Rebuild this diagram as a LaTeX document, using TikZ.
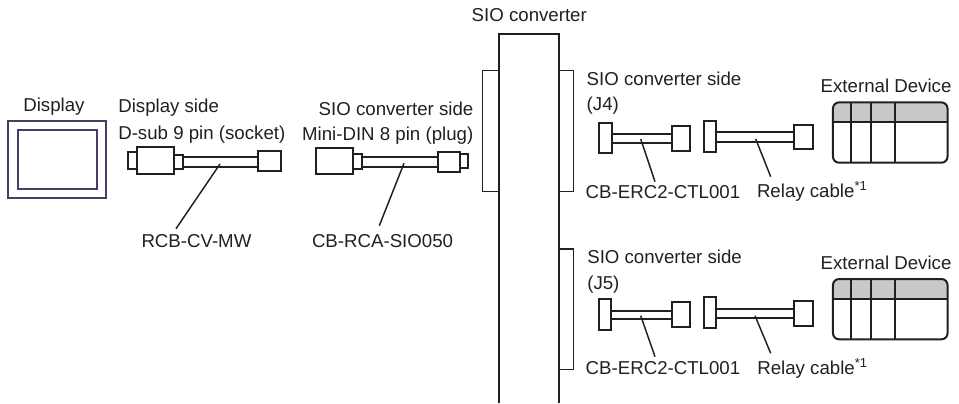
\documentclass[tikz,border=0pt]{standalone}
\usepackage{fontspec}
\setmainfont{Liberation Sans}
\definecolor{ink}{HTML}{231F20}
\definecolor{dev}{HTML}{C8C9CB}
\definecolor{disp}{HTML}{4B3A68}
\newcommand{\partbox}[6][part]{%
  \pgfmathsetmacro{\pbw}{(#5-#3)*0.75}%
  \pgfmathsetmacro{\pbh}{(#6-#4)*0.75}%
  \node[#1,minimum width=\pbw pt,minimum height=\pbh pt] (#2) at ({(#3+#5)/2},{(#4+#6)/2}) {};}
\newcommand{\devicebox}[3]{% name, top, divider
  \pgfmathsetmacro{\dvb}{#2+60.3}%
  \begin{scope}
    \clip[rounded corners=4.5pt] (833,#2) rectangle (947.5,\dvb);
    \fill[dev] (833,#2) rectangle (947.5,#3);
  \end{scope}
  \node[devframe,minimum width=85.9pt,minimum height=45.2pt] (#1) at (890.25,{(#2+\dvb)/2}) {};
  \draw[devline] (833,#3) -- (947.5,#3);
  \draw[devline] (851.3,#2) -- (851.3,\dvb);
  \draw[devline] (870.7,#2) -- (870.7,\dvb);
  \draw[devline] (895.3,#2) -- (895.3,\dvb);}
\tikzset{
  x=0.75pt,y=-0.75pt,
  part/.style={draw=ink,fill=white,line width=1.5pt,inner sep=0pt,outer sep=0pt},
  thinpart/.style={draw=ink,fill=white,line width=0.9pt,inner sep=0pt,outer sep=0pt},
  dispouter/.style={draw=disp,fill=white,line width=1.9pt,inner sep=0pt,outer sep=0pt},
  dispinner/.style={draw=disp,fill=white,line width=1.5pt,inner sep=0pt,outer sep=0pt},
  devframe/.style={draw=ink,line width=1.5pt,rounded corners=4.5pt,inner sep=0pt,outer sep=0pt},
  devline/.style={draw=ink,line width=1.3pt},
  wire/.style={draw=ink,line width=1.5pt},
  leader/.style={draw=ink,line width=1.1pt},
  lab/.style={text=ink,font=\fontsize{14}{16}\selectfont,inner sep=0pt,outer sep=0pt,anchor=base west},
  labr/.style={lab,anchor=base east},
}
\begin{document}
\begin{tikzpicture}
\useasboundingbox (0,0) rectangle (959,403);
% Display
\partbox[dispouter]{dispo}{8}{121}{106}{198}
\partbox[dispinner]{dispi}{17.7}{130}{96.7}{189}
\node[lab] (tdisp) at (23.3,111.7) {Display};
\node[lab] (tds1) at (118.3,112.7) {Display side};
\node[lab] (tds2) at (118.3,139.3) {D-sub 9 pin (socket)};
% Cable 1
\partbox{c1a}{127.7}{151.7}{136.7}{169.3}
\partbox{c1b}{136.7}{147.3}{174.3}{174.3}
\partbox{c1c}{174.3}{154.7}{183.3}{169.3}
\partbox{c1d}{258.3}{151.3}{280.7}{171}
\draw[wire] (c1c.east |- 0,157) -- (c1d.west |- 0,157);
\draw[wire] (c1c.east |- 0,166.7) -- (c1d.west |- 0,166.7);
\node[lab] (t1) at (141.5,247) {RCB-CV-MW};
\coordinate (l1a) at (220,164);
\coordinate (l1b) at (176,228.7);
\draw[leader] (l1a) -- (l1b);
% Cable 2
\node[labr] (ts1) at (473.3,115.7) {SIO converter side};
\node[labr] (ts2) at (473.3,140) {Mini-DIN 8 pin (plug)};
\partbox{c2a}{316}{147.7}{353.3}{174.3}
\partbox{c2b}{353.3}{154.3}{362.3}{169.3}
\partbox{c2c}{437.7}{151.7}{460}{171.7}
\partbox{c2d}{460}{154.3}{467.7}{168.3}
\draw[wire] (c2b.east |- 0,157) -- (c2c.west |- 0,157);
\draw[wire] (c2b.east |- 0,166.7) -- (c2c.west |- 0,166.7);
\node[lab] (t2) at (312,247) {CB-RCA-SIO050};
\coordinate (l2a) at (404,163.3);
\coordinate (l2b) at (379.3,225.7);
\draw[leader] (l2a) -- (l2b);
% SIO converter
\node[lab] (tsio) at (471.7,22) {SIO converter};
\partbox[thinpart]{fl}{482.7}{70.3}{499}{191.3}
\partbox[thinpart]{fr1}{559}{70.3}{573.3}{191.3}
\partbox[thinpart]{fr2}{559}{249}{573.3}{369.7}
\fill[white] (499,34) rectangle (559,403);
\draw[ink,line width=1.5pt] (499,403) -- (499,34) -- (559,34) -- (559,403);
% Upper branch
\node[lab] (u1) at (586.7,85) {SIO converter side};
\node[lab] (u2) at (586.7,110) {(J4)};
\node[lab] (u3) at (820.7,93) {External Device};
\partbox{c3a}{599}{122.7}{611.7}{153.3}
\partbox{c3b}{671.7}{126}{690}{150.7}
\draw[wire] (c3a.east |- 0,134) -- (c3b.west |- 0,134);
\draw[wire] (c3a.east |- 0,143.3) -- (c3b.west |- 0,143.3);
\partbox{c4a}{704}{121}{716}{151.7}
\partbox{c4b}{794}{124.7}{812.7}{149.3}
\draw[wire] (c4a.east |- 0,132.3) -- (c4b.west |- 0,132.3);
\draw[wire] (c4a.east |- 0,141.7) -- (c4b.west |- 0,141.7);
\devicebox{d1}{102.4}{121.7}
\coordinate (l3a) at (640.7,139);
\coordinate (l3b) at (655,181.7);
\draw[leader] (l3a) -- (l3b);
\coordinate (l4a) at (755.7,139);
\coordinate (l4b) at (770.7,176.7);
\draw[leader] (l4a) -- (l4b);
\node[lab] (u4) at (585.7,198) {CB-ERC2-CTL001};
\node[lab] (u5) at (757,197.7) {Relay cable\textsuperscript{*1}};
% Lower branch
\node[lab] (v1) at (587.3,263.3) {SIO converter side};
\node[lab] (v2) at (587.3,289.3) {(J5)};
\node[lab] (v3) at (820.7,269.3) {External Device};
\partbox{c5a}{598.7}{299.3}{611}{330}
\partbox{c5b}{671.7}{302.3}{690}{327}
\draw[wire] (c5a.east |- 0,310.7) -- (c5b.west |- 0,310.7);
\draw[wire] (c5a.east |- 0,319.3) -- (c5b.west |- 0,319.3);
\partbox{c6a}{703.7}{297.3}{716}{328.3}
\partbox{c6b}{794}{301}{812.7}{326}
\draw[wire] (c6a.east |- 0,309) -- (c6b.west |- 0,309);
\draw[wire] (c6a.east |- 0,317.7) -- (c6b.west |- 0,317.7);
\devicebox{d2}{279}{298.7}
\coordinate (l5a) at (640.7,315.7);
\coordinate (l5b) at (655,356.7);
\draw[leader] (l5a) -- (l5b);
\coordinate (l6a) at (755,315.7);
\coordinate (l6b) at (770.7,353.3);
\draw[leader] (l6a) -- (l6b);
\node[lab] (v4) at (585.7,374) {CB-ERC2-CTL001};
\node[lab] (v5) at (757.3,374) {Relay cable\textsuperscript{*1}};
\end{tikzpicture}
\end{document}
